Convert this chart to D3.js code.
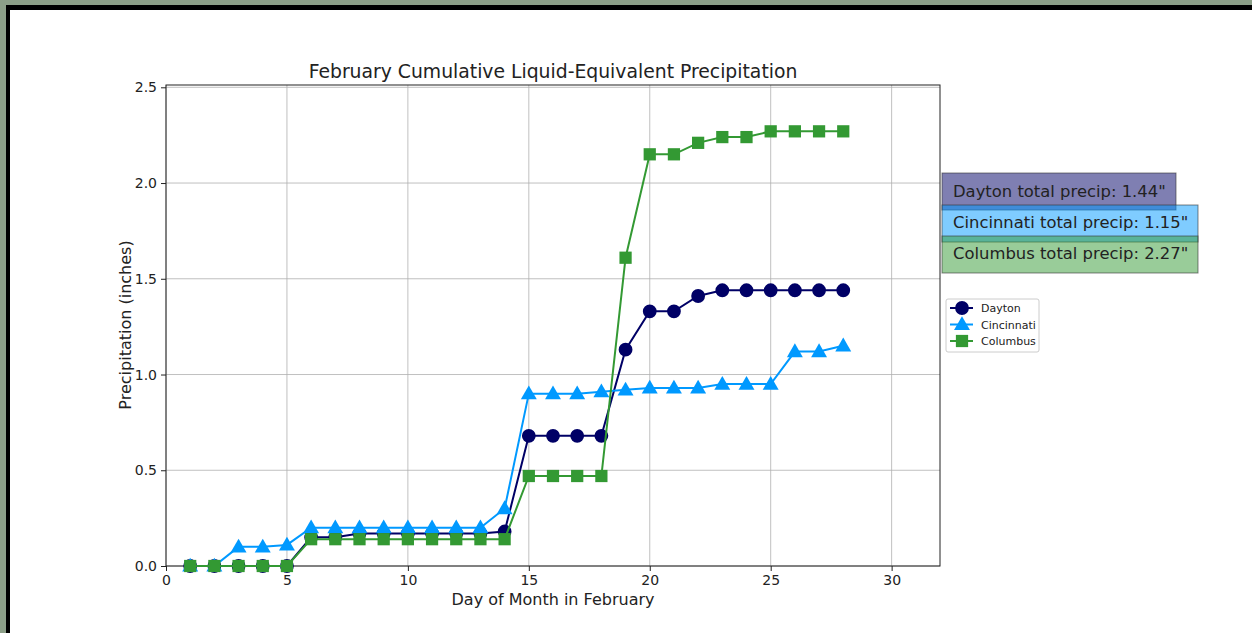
<!DOCTYPE html>
<html>
<head>
<meta charset="utf-8">
<script src="https://cdn.jsdelivr.net/npm/d3@7"></script>
<style>
  body { margin: 0; background: #8c9f88; }
  svg { display: block; }
  text { font-family: "DejaVu Sans", sans-serif; fill: #222; }
</style>
</head>
<body>
<div id="chart"></div>
<script>
// data
var days = d3.range(1, 29)
var dayton = [0, 0, 0, 0, 0, 0.15, 0.15, 0.17, 0.17, 0.17, 0.17, 0.17, 0.17, 0.18,
              0.68, 0.68, 0.68, 0.68, 1.13, 1.33, 1.33, 1.41, 1.44, 1.44, 1.44, 1.44, 1.44, 1.44]
var cincinnati = [0, 0, 0.10, 0.10, 0.11, 0.20, 0.20, 0.20, 0.20, 0.20, 0.20, 0.20, 0.20, 0.30,
                  0.90, 0.90, 0.90, 0.91, 0.92, 0.93, 0.93, 0.93, 0.95, 0.95, 0.95, 1.12, 1.12, 1.15]
var columbus = [0, 0, 0, 0, 0, 0.14, 0.14, 0.14, 0.14, 0.14, 0.14, 0.14, 0.14, 0.14,
                0.47, 0.47, 0.47, 0.47, 1.61, 2.15, 2.15, 2.21, 2.24, 2.24, 2.27, 2.27, 2.27, 2.27]
var cities = ["Dayton", "Cincinnati", "Columbus"]
var totals = ["1.44", "1.15", "2.27"]
var xTicks = [0, 5, 10, 15, 20, 25, 30]
var yTicks = [0, 0.5, 1.0, 1.5, 2.0, 2.5]

var series = [
  {name: cities[0], values: dayton, color: "#000066", shape: d3.symbolCircle},
  {name: cities[1], values: cincinnati, color: "#0099ff", shape: d3.symbolTriangle},
  {name: cities[2], values: columbus, color: "#339933", shape: d3.symbolSquare}
]

var W = 1252, H = 633
var margin = {top: 85, right: 312, bottom: 67, left: 166}
var width = W - margin.left - margin.right
var height = H - margin.top - margin.bottom

var svg = d3.select("#chart").append("svg")
  .attr("width", W).attr("height", H)

// frame: black border then white page
svg.append("rect").attr("x", 6).attr("y", 5).attr("width", W - 6).attr("height", H - 5).attr("fill", "#000")
svg.append("rect").attr("x", 10).attr("y", 10).attr("width", W - 10).attr("height", H - 10).attr("fill", "#fff")

var g = svg.append("g").attr("transform", "translate(" + margin.left + "," + margin.top + ")")

var x = d3.scaleLinear().domain([0, 32]).range([0, width])
var y = d3.scaleLinear().domain([0, 2.512]).range([height, 0])

// grid
g.append("g").selectAll("line").data(xTicks).enter().append("line")
  .attr("x1", d => x(d)).attr("x2", d => x(d)).attr("y1", 0).attr("y2", height)
  .attr("stroke", "#b0b0b0").attr("stroke-width", 0.8)
g.append("g").selectAll("line").data(yTicks).enter().append("line")
  .attr("y1", d => y(d)).attr("y2", d => y(d)).attr("x1", 0).attr("x2", width)
  .attr("stroke", "#b0b0b0").attr("stroke-width", 0.8)

// axes
var xAxis = g.append("g").attr("transform", "translate(0," + height + ")")
  .call(d3.axisBottom(x).tickValues(xTicks).tickFormat(d3.format("d")).tickSize(5).tickPadding(4))
var yAxis = g.append("g")
  .call(d3.axisLeft(y).tickValues(yTicks).tickFormat(d3.format(".1f")).tickSize(5).tickPadding(4))
;[xAxis, yAxis].forEach(function(a) {
  a.select(".domain").remove()
  a.selectAll("text").style("font-size", "14px").style("font-family", "DejaVu Sans").attr("fill", "#222")
  a.selectAll("line").attr("stroke", "#222")
})

// frame of plot area
g.append("rect").attr("width", width).attr("height", height)
  .attr("fill", "none").attr("stroke", "#222").attr("stroke-width", 1)

// lines and markers
var line = d3.line().x((d, i) => x(days[i])).y(d => y(d))
series.forEach(function(s) {
  g.append("path").datum(s.values).attr("d", line)
    .attr("fill", "none").attr("stroke", s.color).attr("stroke-width", 2)
  var sym = d3.symbol().type(s.shape).size(s.shape === d3.symbolTriangle ? 110 : 150)
  g.append("g").selectAll("path").data(s.values).enter().append("path")
    .attr("d", sym)
    .attr("transform", (d, i) => "translate(" + x(days[i]) + "," + y(d) + ")" +
      (s.shape === d3.symbolTriangle ? " translate(0,1)" : ""))
    .attr("fill", s.color)
})

// title and labels
svg.append("text").attr("x", margin.left + width / 2).attr("y", 78)
  .attr("text-anchor", "middle").style("font-size", "18.8px")
  .text("February Cumulative Liquid-Equivalent Precipitation")
svg.append("text").attr("x", margin.left + width / 2).attr("y", 605)
  .attr("text-anchor", "middle").style("font-size", "16px")
  .text("Day of Month in February")
svg.append("text").attr("transform", "translate(131,325) rotate(-90)")
  .attr("text-anchor", "middle").style("font-size", "16px")
  .text("Precipitation (inches)")

// total boxes
var boxes = [
  {y: 173, w: 234, base: 197},
  {y: 205, w: 256, base: 228},
  {y: 236, w: 256, base: 259}
]
series.forEach(function(s, i) {
  var b = boxes[i]
  svg.append("rect").attr("x", 942).attr("y", b.y).attr("width", b.w).attr("height", 37)
    .attr("fill", s.color).attr("fill-opacity", 0.5)
    .attr("stroke", "#333").attr("stroke-opacity", 0.6).attr("stroke-width", 1)
  svg.append("text").attr("x", 953).attr("y", b.base).style("font-size", "16.4px")
    .text(s.name + " total precip: " + totals[i] + "\"")
})

// legend
var lg = svg.append("g").attr("transform", "translate(946,299)")
lg.append("rect").attr("width", 93).attr("height", 53).attr("rx", 2)
  .attr("fill", "#fff").attr("stroke", "#ccc")
series.forEach(function(s, i) {
  var yy = 9 + i * 16.5
  lg.append("line").attr("x1", 4).attr("x2", 27).attr("y1", yy).attr("y2", yy)
    .attr("stroke", s.color).attr("stroke-width", 2)
  lg.append("path").attr("d", d3.symbol().type(s.shape).size(s.shape === d3.symbolTriangle ? 110 : 150))
    .attr("transform", "translate(16," + (yy + (s.shape === d3.symbolTriangle ? 1 : 0)) + ")")
    .attr("fill", s.color)
  lg.append("text").attr("x", 35).attr("y", yy + 4).style("font-size", "11px").text(s.name)
})
</script>
</body>
</html>
